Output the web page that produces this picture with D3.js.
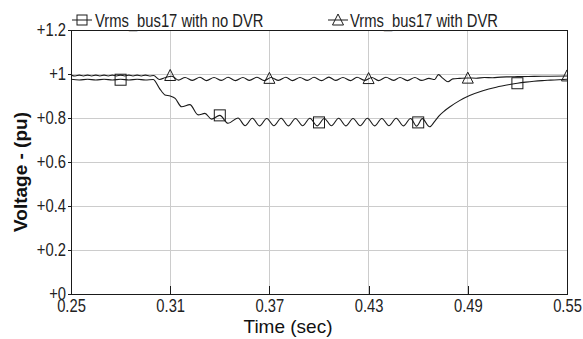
<!DOCTYPE html>
<html>
<head>
<meta charset="utf-8">
<script src="https://cdn.jsdelivr.net/npm/d3@7"></script>
<style>
  html, body { margin: 0; padding: 0; background: #fff; }
  svg { display: block; }
</style>
</head>
<body>
<svg id="chart" width="583" height="339"></svg>
<script>
// ---------- data ----------
const xTickValues = [0.25, 0.31, 0.37, 0.43, 0.49, 0.55];
const xTickLabels = ["0.25", "0.31", "0.37", "0.43", "0.49", "0.55"];
const yTickValues = [0, 0.2, 0.4, 0.6, 0.8, 1.0, 1.2];
const yTickLabels = ["+0", "+0.2", "+0.4", "+0.6", "+0.8", "+1", "+1.2"];
const seriesNames = ["Vrms_bus17 with no DVR", "Vrms_bus17 with DVR"];

// [time (s), voltage (pu)]
const noDvr = [
  [0.250,0.976],[0.255,0.973],[0.260,0.976],[0.265,0.973],[0.270,0.976],[0.275,0.973],
  [0.280,0.976],[0.285,0.973],[0.290,0.976],[0.295,0.973],[0.2997,0.975],
  [0.3035,0.935],[0.3068,0.905],[0.3100,0.900],[0.3130,0.889],[0.3169,0.851],
  [0.3219,0.861],[0.3269,0.814],[0.3310,0.821],[0.3350,0.795],[0.3400,0.812],
  [0.3450,0.776],[0.3510,0.800],
  [0.3553,0.765],[0.3597,0.799],[0.3640,0.764],[0.3684,0.798],[0.3727,0.765],[0.3771,0.799],
  [0.3814,0.764],[0.3858,0.798],[0.3901,0.765],[0.3945,0.799],[0.3988,0.764],[0.4032,0.798],
  [0.4075,0.765],[0.4119,0.799],[0.4162,0.764],[0.4206,0.798],[0.4249,0.765],[0.4293,0.799],
  [0.4336,0.764],[0.4380,0.798],[0.4423,0.765],[0.4467,0.799],[0.4510,0.764],[0.4554,0.798],
  [0.4590,0.763],[0.4625,0.797],[0.4669,0.760],
  [0.4700,0.785],[0.4729,0.812],[0.4760,0.833],[0.4790,0.850],[0.4850,0.879],[0.4911,0.902],
  [0.4991,0.924],[0.5072,0.940],[0.5153,0.952],[0.5200,0.958],[0.5250,0.963],[0.5300,0.967],
  [0.5350,0.970],[0.5400,0.972],[0.5450,0.974],[0.5500,0.976]
];

const withDvr = [
  [0.2500,0.995],[0.2525,0.991],[0.2550,0.995],[0.2575,0.991],[0.2600,0.995],[0.2625,0.991],
  [0.2650,0.995],[0.2675,0.991],[0.2700,0.995],[0.2725,0.991],[0.2750,0.995],[0.2775,0.991],
  [0.2800,0.995],[0.2825,0.991],[0.2850,0.995],[0.2875,0.991],[0.2900,0.995],[0.2925,0.991],
  [0.2950,0.995],[0.2975,0.991],[0.3000,0.993],
  [0.3035,0.975],[0.3075,0.985],[0.3110,0.990],[0.3150,0.972],[0.3190,0.984],[0.3235,0.971],
  [0.3280,0.985],[0.3320,0.970],[0.3365,0.984],[0.3410,0.971],[0.3450,0.985],[0.3495,0.970],
  [0.3540,0.984],[0.3580,0.971],[0.3625,0.985],[0.3670,0.970],[0.3710,0.984],[0.3755,0.971],
  [0.3800,0.985],[0.3840,0.970],[0.3885,0.984],[0.3930,0.971],[0.3970,0.985],[0.4015,0.970],
  [0.4060,0.986],[0.4100,0.971],[0.4145,0.984],[0.4190,0.970],[0.4230,0.985],[0.4275,0.971],
  [0.4320,0.984],[0.4360,0.970],[0.4405,0.985],[0.4450,0.971],[0.4490,0.984],[0.4535,0.970],
  [0.4580,0.984],[0.4620,0.971],[0.4665,0.980],[0.4700,0.975],[0.4722,0.997],[0.4750,0.980],
  [0.4780,0.965],[0.4810,0.978],[0.4850,0.980],[0.4900,0.982],[0.4950,0.981],[0.5000,0.984],
  [0.5050,0.983],[0.5100,0.986],[0.5150,0.987],[0.5200,0.988],[0.5300,0.989],[0.5400,0.990],
  [0.5500,0.991]
];

// marker positions along each trace
const squareMarkers = [[0.28,0.974],[0.34,0.812],[0.40,0.780],[0.46,0.780],[0.52,0.958]];
const triangleMarkers = [[0.31,0.993],[0.37,0.980],[0.43,0.979],[0.49,0.981],[0.55,0.991]];

// ---------- layout ----------
const svg = d3.select("#chart");
const L = 71, R = 567, T = 30, B = 294;
const x = d3.scaleLinear().domain([0.25, 0.55]).range([L, R]);
const y = d3.scaleLinear().domain([0, 1.2]).range([B, T]);
const ink = "#1a1a1a";
const FONT = "Liberation Sans, Arial, sans-serif";

// condense a text element horizontally (narrow-font look)
function narrow(sel, factor) {
  sel.each(function () {
    const w = this.getComputedTextLength();
    d3.select(this).attr("textLength", (w * factor).toFixed(2)).attr("lengthAdjust", "spacingAndGlyphs");
  });
}

svg.append("defs").append("clipPath").attr("id", "plotclip")
  .append("rect").attr("x", L).attr("y", T - 8).attr("width", R - L).attr("height", B - T + 8);

// grid
svg.append("g").selectAll("line").data(xTickValues.slice(1, -1)).join("line")
  .attr("x1", d => x(d)).attr("x2", d => x(d)).attr("y1", T).attr("y2", B)
  .attr("stroke", "#cccccc").attr("stroke-width", 1).attr("shape-rendering", "crispEdges");
svg.append("g").selectAll("line").data(yTickValues.slice(1, -1)).join("line")
  .attr("x1", L).attr("x2", R).attr("y1", d => y(d)).attr("y2", d => y(d))
  .attr("stroke", "#cccccc").attr("stroke-width", 1).attr("shape-rendering", "crispEdges");

// axes
const xAxis = d3.axisBottom(x).tickValues(xTickValues)
  .tickFormat((d, i) => xTickLabels[i]).tickSize(-8).tickPadding(5);
const gx = svg.append("g").attr("transform", `translate(0,${B})`).call(xAxis);
gx.select(".domain").remove();
gx.selectAll(".tick line").attr("stroke", ink).attr("shape-rendering", "crispEdges");
gx.selectAll(".tick text").attr("font-family", FONT).attr("font-size", 18).attr("fill", "#222")
  .call(narrow, 0.82);

const yAxis = d3.axisLeft(y).tickValues(yTickValues)
  .tickFormat((d, i) => yTickLabels[i]).tickSize(3).tickPadding(2);
const gy = svg.append("g").attr("transform", `translate(${L},0)`).call(yAxis);
gy.select(".domain").remove();
gy.selectAll(".tick line").attr("stroke", ink).attr("shape-rendering", "crispEdges");
gy.selectAll(".tick text").attr("font-family", FONT).attr("font-size", 18).attr("fill", "#222")
  .call(narrow, 0.82);

// frame
svg.append("rect").attr("x", L).attr("y", T).attr("width", R - L).attr("height", B - T)
  .attr("fill", "none").attr("stroke", ink).attr("stroke-width", 1).attr("shape-rendering", "crispEdges");

// lines
const line = d3.line().x(d => x(d[0])).y(d => y(d[1])).curve(d3.curveMonotoneX);
const plot = svg.append("g").attr("clip-path", "url(#plotclip)");
[noDvr, withDvr].forEach(s => {
  plot.append("path").datum(s).attr("d", line)
    .attr("fill", "none").attr("stroke", ink).attr("stroke-width", 1.1);
});

// markers
const sq = 11, tri = 11;
const trianglePath = (cx, cy) => `M${cx},${cy - tri * 0.55}L${cx + tri / 2},${cy + tri * 0.45}L${cx - tri / 2},${cy + tri * 0.45}Z`;
plot.selectAll("rect").data(squareMarkers).join("rect")
  .attr("x", d => x(d[0]) - sq / 2).attr("y", d => y(d[1]) - sq / 2)
  .attr("width", sq).attr("height", sq)
  .attr("fill", "none").attr("stroke", ink).attr("stroke-width", 1);
plot.selectAll("path.tri").data(triangleMarkers).join("path").attr("class", "tri")
  .attr("d", d => trianglePath(x(d[0]), y(d[1])))
  .attr("fill", "none").attr("stroke", ink).attr("stroke-width", 1);

// legend
const legend = [
  { x0: 72, x1: 92, tx: 95, kind: "sq" },
  { x0: 328, x1: 348, tx: 350, kind: "tri" }
];
const ly = 20;
legend.forEach((l, i) => {
  svg.append("line").attr("x1", l.x0).attr("x2", l.x1).attr("y1", ly).attr("y2", ly)
    .attr("stroke", ink).attr("stroke-width", 1);
  const cx = (l.x0 + l.x1) / 2;
  if (l.kind === "sq") {
    svg.append("rect").attr("x", cx - 5).attr("y", ly - 5).attr("width", 10).attr("height", 10)
      .attr("fill", "none").attr("stroke", ink);
  } else {
    svg.append("path").attr("d", `M${cx},${ly - 6}L${cx + 5.5},${ly + 5}L${cx - 5.5},${ly + 5}Z`)
      .attr("fill", "none").attr("stroke", ink);
  }
  svg.append("text").attr("x", l.tx).attr("y", 26.5)
    .attr("font-family", FONT).attr("font-size", 18).attr("fill", "#222").text(seriesNames[i])
    .call(narrow, 0.82);
});

// axis titles
svg.append("text").attr("x", 288).attr("y", 333)
  .attr("text-anchor", "middle").attr("font-family", FONT)
  .attr("font-size", 19).attr("fill", "#111").text("Time (sec)");
svg.append("text").attr("transform", "translate(27,172) rotate(-90)")
  .attr("text-anchor", "middle").attr("font-family", FONT)
  .attr("font-weight", "bold").attr("font-size", 19).attr("fill", "#111").text("Voltage - (pu)");
</script>
</body>
</html>
